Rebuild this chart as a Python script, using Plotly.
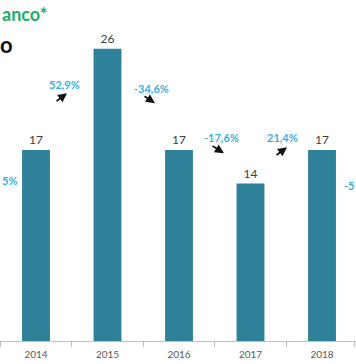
import plotly.graph_objects as go

years = [2014, 2015, 2016, 2017, 2018]
year_labels = ["2014", "2015", "2016", "2017", "2018"]
values = [17, 26, 17, 14, 17]
growth_labels = ["52,9%", "-34,6%", "-17,6%", "21,4%"]
edge_left_label = "5%"
edge_right_label = "-5"
title_green = "anco*"
title_black = "o"

BAR = "#2f8199"
PCT = "#3aaee0"
GREEN = "#1dae69"
FONT = "Lato"

fig = go.Figure()
fig.add_trace(go.Bar(
    x=years, y=values, marker=dict(color=BAR, line=dict(width=0)),
    text=[str(v) for v in values], textposition="outside",
    textfont=dict(family=FONT, size=12, color="#404040"),
    cliponaxis=False, width=0.39, hoverinfo="skip",
))

# label placement (axis coordinates)
growth_pos = [(2014.40, 22.8), (2015.62, 22.5), (2016.59, 18.1), (2017.45, 18.1)]
arrows = [((2014.266, 21.24), (2014.434, 22.04)),
          ((2015.497, 21.87), (2015.664, 21.16)),
          ((2016.448, 17.42), (2016.629, 16.71)),
          ((2017.343, 16.44), (2017.51, 17.24))]

pct_font = dict(family=FONT, size=11, color=PCT, weight="bold")
ann = []
for lab, (x, y) in zip(growth_labels, growth_pos):
    ann.append(dict(x=x, y=y, xref="x", yref="y", text=lab, showarrow=False, font=pct_font))
for (tx, ty), (hx, hy) in arrows:
    ann.append(dict(x=hx, y=hy, ax=tx, ay=ty, xref="x", yref="y", axref="x", ayref="y",
                    text="", showarrow=True, arrowhead=2, arrowsize=1, arrowwidth=1.8,
                    arrowcolor="#111111"))
ann.append(dict(x=0, y=14.3, xref="paper", yref="y", text=edge_left_label, showarrow=False,
                xanchor="left", font=pct_font))
ann.append(dict(x=1, y=13.8, xref="paper", yref="y", text=edge_right_label, showarrow=False,
                xanchor="right", font=pct_font))
ann.append(dict(x=0, y=1, xref="paper", yref="paper", yshift=1, text=title_green, showarrow=False,
                xanchor="left", yanchor="middle",
                font=dict(family=FONT, size=18, color=GREEN, weight="bold")))
ann.append(dict(x=0, y=0.911, xref="paper", yref="paper", text=title_black, showarrow=False,
                xanchor="left", yanchor="middle", xshift=-2,
                font=dict(family=FONT, size=22, color="#111111", weight="bold")))

fig.update_layout(
    width=356, height=364, margin=dict(l=0, r=0, t=15, b=23),
    paper_bgcolor="white", plot_bgcolor="white", showlegend=False,
    annotations=ann,
    xaxis=dict(type="linear", range=[2013.4965, 2018.4755], showline=True, linecolor="#bfbfbf",
               linewidth=1, tickvals=years, ticktext=year_labels, ticks="",
               ticklabelstandoff=4,
               minor=dict(tickvals=[2013.5, 2014.5, 2015.5, 2016.5, 2017.5, 2018.45],
                          ticks="outside", ticklen=5, tickcolor="#bfbfbf", showgrid=False),
               tickfont=dict(family=FONT, size=10, color="#595959"), showgrid=False,
               zeroline=False),
    yaxis=dict(range=[0, 29], visible=False, showgrid=False, zeroline=False),
)
fig.write_html("out.html", config={"displayModeBar": False},
               post_script="document.body.style.margin='0px';")
